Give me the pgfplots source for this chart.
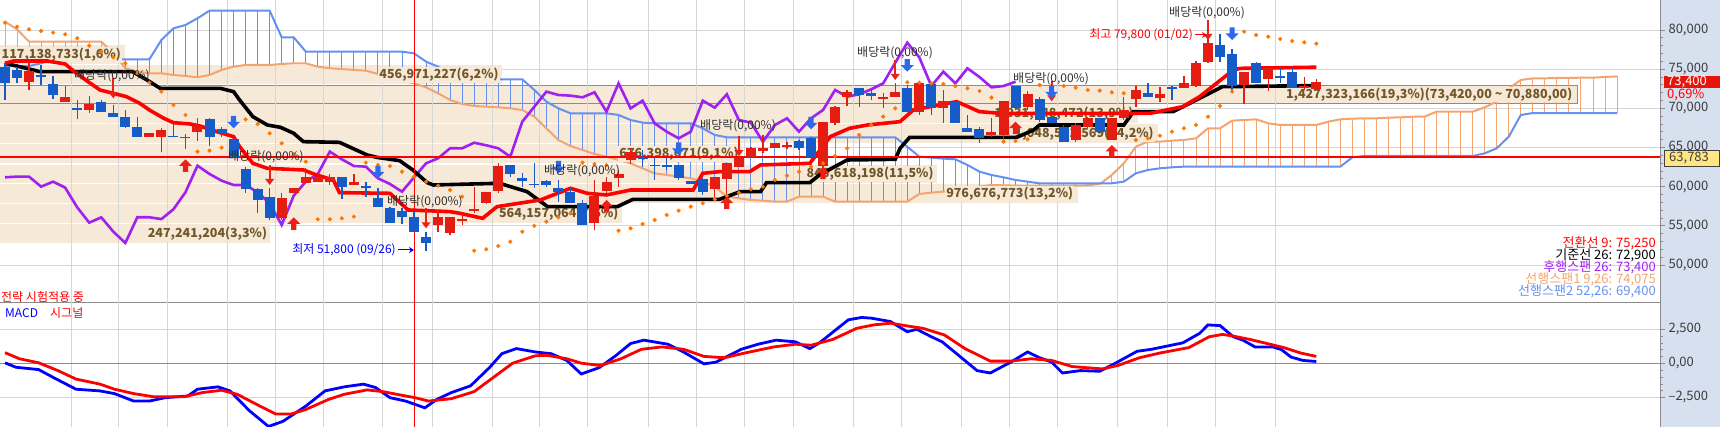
\documentclass[border=0pt]{standalone}
\usepackage{fontspec}
\setmainfont{Noto Sans CJK KR}
\usepackage{pgfplots}
\usepackage{pgfplotstable}
\pgfplotsset{compat=1.18}
\usetikzlibrary{arrows.meta}

\definecolor{cred}{RGB}{228,28,18}
\definecolor{cblue}{RGB}{22,92,200}
\definecolor{ared}{RGB}{236,32,22}
\definecolor{ablue}{RGB}{45,105,235}
\definecolor{chik}{RGB}{160,32,240}
\definecolor{spanA}{RGB}{244,164,110}
\definecolor{spanB}{RGB}{100,145,240}
\definecolor{sar}{RGB}{255,118,0}
\definecolor{beige}{RGB}{246,233,216}
\definecolor{brownlab}{RGB}{112,86,40}
\definecolor{gridgray}{RGB}{214,214,214}
\definecolor{axgray}{RGB}{140,140,140}
\definecolor{labgray}{RGB}{60,60,60}
\definecolor{panel}{RGB}{214,224,238}
\definecolor{pricered}{RGB}{230,20,10}
\definecolor{boxyel}{RGB}{255,230,130}
\definecolor{divtxt}{RGB}{45,45,45}

\newcommand{\fsz}[1]{\fontsize{#1}{#1}\selectfont}

% block arrows and ex-dividend marker, tip at the data point
\pgfdeclareplotmark{arrup}{%
  \pgfpathmoveto{\pgfqpoint{0pt}{0pt}}%
  \pgfpathlineto{\pgfqpoint{6.5pt}{-6.5pt}}%
  \pgfpathlineto{\pgfqpoint{2.6pt}{-6.5pt}}%
  \pgfpathlineto{\pgfqpoint{2.6pt}{-12.5pt}}%
  \pgfpathlineto{\pgfqpoint{-2.6pt}{-12.5pt}}%
  \pgfpathlineto{\pgfqpoint{-2.6pt}{-6.5pt}}%
  \pgfpathlineto{\pgfqpoint{-6.5pt}{-6.5pt}}%
  \pgfpathclose\pgfusepathqfill}
\pgfdeclareplotmark{arrdown}{%
  \pgfpathmoveto{\pgfqpoint{0pt}{0pt}}%
  \pgfpathlineto{\pgfqpoint{6.5pt}{6.5pt}}%
  \pgfpathlineto{\pgfqpoint{2.6pt}{6.5pt}}%
  \pgfpathlineto{\pgfqpoint{2.6pt}{12.5pt}}%
  \pgfpathlineto{\pgfqpoint{-2.6pt}{12.5pt}}%
  \pgfpathlineto{\pgfqpoint{-2.6pt}{6.5pt}}%
  \pgfpathlineto{\pgfqpoint{-6.5pt}{6.5pt}}%
  \pgfpathclose\pgfusepathqfill}
\pgfdeclareplotmark{divm}{%
  \pgfpathmoveto{\pgfqpoint{0pt}{0pt}}%
  \pgfpathlineto{\pgfqpoint{4.5pt}{6pt}}%
  \pgfpathlineto{\pgfqpoint{-4.5pt}{6pt}}%
  \pgfpathclose\pgfusepathqfill
  \pgfpathrectangle{\pgfqpoint{-0.9pt}{5pt}}{\pgfqpoint{1.8pt}{15pt}}\pgfusepathqfill}

% error-bar plots only: hide the point markers
\pgfplotsset{barsonly/.style={only marks, mark=*, mark options={opacity=0}, forget plot}}

% daily candles: index, open, high, low, close
\pgfplotstableread{
i o h l c
0 75320 75745 71065 73190
1 74895 75320 73190 73830
2 73320 76045 72340 74765
3 74255 75530 72980 74045
4 73065 74130 71150 71700
5 70850 72850 70850 71450
6 70000 71065 68595 69830
7 69790 71620 69365 70555
8 70850 71065 69490 69575
9 69365 70425 68850 68940
10 68850 69790 67535 67660
11 67660 68850 66300 66385
12 66300 66810 66300 66810
13 66300 67535 64385 67235
14 66470 68300 66340 66340
15 66260 66680 64770 66385
16 66940 68725 65830 67790
17 68640 68725 65235 66300
18 67320 67660 66385 66680
19 66045 66385 63620 63620
20 62215 62555 59235 59660
21 59705 59790 56600 58300
22 58725 59790 55750 55960
23 55960 59150 55750 58515
24 59150 59790 59150 59790
25 60430 62345 60430 61195
26 60640 61705 60640 61280
27 60640 61620 60215 61280
28 61195 61280 58385 60000
29 60215 61620 60215 60640
30 60130 60640 58725 59875
31 58515 59875 57365 57365
32 57235 57450 55400 55400
33 56940 57235 55235 56085
34 56170 56940 54260 54260
35 53575 54210 51800 52810
36 55100 57020 54250 56100
37 54040 56090 53830 56090
38 55560 56600 55100 55860
39 56940 60000 56600 57110
40 57875 59280 57790 59280
41 59490 62980 59150 62680
42 62770 62770 61280 61620
43 61150 61705 60000 60770
44 60385 62980 59790 60215
45 60725 60855 60000 60215
46 59790 60855 58090 59280
47 59280 60000 57875 57875
48 57875 58300 55110 55110
49 55400 60855 54470 58850
50 59490 61280 59235 60640
51 61065 62130 59915 61620
52 63405 64895 62895 64470
53 63830 64685 62555 63490
54 62770 63830 60855 62640
55 62770 63830 62130 62555
56 62770 62770 60855 61065
57 60680 60680 60340 60340
58 60980 61065 58940 59360
59 59700 61280 58725 61190
60 60940 62980 58300 62980
61 62470 63830 62470 63620
62 63830 65110 63830 64900
63 64600 66600 64260 64895
64 64890 65610 64890 65610
65 65195 65745 64770 65280
66 65830 65960 64685 64895
67 66170 66300 63830 63830
68 62640 68300 62555 68300
69 68085 70300 67875 70210
70 71490 72340 70300 72130
71 72555 72555 70210 71700
72 71915 72340 71065 71620
73 71150 71915 70000 71405
74 71490 73190 71405 72045
75 72555 72980 69575 69575
76 69575 73275 69150 73190
77 73100 73190 69150 69990
78 69990 72340 68085 70980
79 70850 70850 68085 68085
80 67450 69150 67020 67020
81 67320 67660 65620 66170
82 66590 68725 66385 67020
83 66590 70980 65960 70980
84 72850 72850 69790 70085
85 70215 72215 69790 71790
86 71150 71490 68300 68510
87 68940 69150 68085 68170
88 67660 67875 65745 65745
89 65960 68085 65745 67875
90 67660 68940 67450 68725
91 68725 68725 66810 67025
92 65960 68725 65960 68725
93 68725 71490 68510 69790
94 71150 72850 70215 72340
95 71915 73190 71405 71490
96 71365 72680 70850 71790
97 72680 72850 71065 72425
98 72640 74130 72640 73190
99 72850 76085 72765 75830
100 75960 79800 75745 78380
101 78085 79500 75960 76510
102 76935 77575 72340 72850
103 72980 74680 70555 74680
104 75745 75960 73190 73190
105 73705 75105 72255 75105
106 74085 75320 73190 74000
107 74680 75105 72555 72680
108 72555 74045 72340 72850
109 72425 73700 72340 73400
}\candles

% leading spans 1 and 2
\pgfplotstableread{
i s1 s2
0 81064 75405
1 80086 75405
2 78511 75405
3 78511 75745
4 78511 76256
5 78511 76256
6 78511 76256
7 78511 76256
8 78511 76256
9 77022 76256
10 75107 76256
11 74682 76256
12 74469 76256
13 74469 78724
14 74256 80213
15 74129 80639
16 73958 81490
17 74256 82468
18 74894 82468
19 75320 82468
20 75533 82468
21 75533 82468
22 75533 82468
23 75660 79064
24 75745 79064
25 75745 77235
26 75320 77235
27 75107 77235
28 75022 77235
29 74894 77235
30 74809 77235
31 74384 77235
32 73958 77235
33 73533 77235
34 73192 77022
35 72682 75958
36 71916 75320
37 71065 74256
38 70554 73831
39 70299 73703
40 70214 73703
41 70129 73703
42 70001 73703
43 69788 73703
44 68937 72341
45 67448 70852
46 65959 70001
47 65193 69363
48 64682 69363
49 64172 69363
50 63831 69363
51 63406 69150
52 62980 68512
53 62342 68172
54 61704 68086
55 61491 68086
56 61278 68086
57 61066 68086
58 60640 67448
59 60002 66597
60 58725 66299
61 58513 66299
62 58300 66299
63 58215 66299
64 58087 66299
65 58087 66299
66 58725 66299
67 58725 66299
68 58725 66299
69 58087 66299
70 58087 66299
71 58087 66299
72 58087 66299
73 58087 66299
74 58087 66299
75 58087 65108
76 59066 63831
77 59236 63704
78 59364 63576
79 59576 63491
80 59789 62768
81 60002 61917
82 60215 61491
83 60172 61193
84 60130 60853
85 60087 60640
86 60087 60427
87 60087 60427
88 60087 60427
89 60130 60427
90 60172 60427
91 60342 60427
92 61491 60427
93 62980 60640
94 65108 61704
95 65746 62129
96 65746 62342
97 65874 62470
98 65959 62555
99 66172 62555
100 67448 62555
101 67448 62555
102 68427 62555
103 68512 62555
104 68597 62555
105 68086 62555
106 67874 62555
107 67874 62555
108 67874 62555
109 67874 62555
110 68299 62555
111 68597 62555
112 68682 63746
113 68725 63917
114 68725 63917
115 68810 63917
116 68852 63917
117 68937 63917
118 68937 63917
119 69576 63917
120 69576 63917
121 69576 63917
122 69576 63917
123 70129 64257
124 70852 64895
125 72554 66384
126 73618 69150
127 73831 69400
128 73831 69400
129 73873 69400
130 73873 69400
131 73916 69400
132 73916 69400
133 74001 69400
134 74075 69400
}\spans

\pgfplotstableread{
x y
0 75745
0.7 76045
3.5 76045
5 75660
5.6 74895
6.9 73405
7.9 72340
9 71915
10.1 71490
11.2 70640
12 69790
13.2 68725
14 68170
15.4 68000
16.2 67745
17.6 67025
19 66385
19.5 65110
20.6 62980
21.8 62345
24.8 62130
25.9 61490
27.3 60855
27.8 59235
32 59150
33.5 57025
37 56810
37.8 56600
39.7 55960
40.9 57450
44.5 58300
47 59790
48.4 59150
50 58940
52 59575
57.2 59575
58 61705
59.4 61915
61.9 61915
62.8 62770
66.9 62980
68.6 66385
70.2 67450
71.7 67875
74.4 68300
75.5 69790
79.1 70855
81 69575
82.7 69365
95.2 69365
97.9 70215
99.3 71490
100.7 73190
102.1 74895
102.7 75105
109 75250
}\tenkan

\pgfplotstableread{
x y
0 75745
1.2 75320
2.9 74680
10.6 74680
11.8 73620
12.9 72555
17.9 72555
19 72130
19.5 71065
20.6 68940
21.8 67875
22.9 67575
24 66810
24.8 65745
27.8 65660
30.1 64045
30.9 63745
32.8 63320
33.9 62130
35.1 60510
35.6 60215
41.1 60430
43.4 59360
45.1 57450
50.9 57450
52.2 58385
59.4 58385
61.1 59360
62.8 59360
63.3 60510
66.9 60510
67.7 61490
70 63405
74 63490
74.4 64895
75.2 66300
84.1 66300
85.5 67235
86 67875
93 67875
93.8 69575
97.1 69575
101.2 72765
109 72900
}\kijun

\pgfplotstableread{
x y
0 61195
1 61280
2 61280
3 60000
4 60640
5 59875
6 57365
7 55400
8 56085
9 54260
10 52810
11 56100
12 56090
13 55860
14 57110
15 59280
16 62680
17 61620
18 60770
19 60215
20 60215
21 59280
22 57875
23 55110
24 58850
25 60640
26 61620
27 64470
28 63490
29 62640
30 62555
31 61065
32 60340
33 59360
34 61190
35 62980
36 63620
37 64900
38 64895
39 65610
40 65280
41 64895
42 63830
43 68300
44 70210
45 72130
46 71700
47 71620
48 71405
49 72045
50 69575
51 73190
52 69990
53 70980
54 68085
55 67020
56 66170
57 67020
58 70980
59 70085
60 71790
61 68510
62 68170
63 65745
64 67875
65 68725
66 67025
67 68725
68 69790
69 72340
70 71490
71 71790
72 72425
73 73190
74 75830
75 78380
76 76510
77 72850
78 74680
79 73190
80 75105
81 74000
82 72680
83 72850
84 73400
}\chikou

\pgfplotstableread{
x y
0 80937
1 80426
2 80086
3 79873
4 79660
5 79447
6 78937
7 78001
8 77235
9 76511
10 75746
11 74469
12 73278
13 72129
14 70427
15 69150
16 64470
17 64597
18 64980
19 68725
20 68597
21 68001
22 66810
23 65534
24 64172
25 63193
26 55840
27 55840
28 55960
29 56173
30 63066
31 62768
32 62640
33 61917
34 61279
35 60640
36 60130
37 59575
38 58725
39 51830
40 52000
41 52425
42 52975
43 54250
44 55000
45 55534
46 56087
47 56598
48 63066
49 62896
50 62768
51 54380
52 54683
53 55236
54 55747
55 56385
56 56939
57 57450
58 57875
59 58385
60 58811
61 59236
62 59662
63 60000
64 60853
65 61407
66 61917
67 62555
68 62981
69 63917
70 64895
71 66597
72 67874
73 68938
74 69999
75 73320
76 73278
77 73193
78 73107
79 72852
80 72554
81 72214
82 71363
83 65746
84 65831
85 66044
86 72980
87 72937
88 72852
89 72639
90 72342
91 72256
92 72044
93 71916
94 65959
95 66171
96 66512
97 67023
98 67448
99 67874
100 68938
101 70299
102 72129
103 79788
104 79362
105 79150
106 78852
107 78596
108 78426
109 78256
}\sarpts

\pgfplotstableread{
x y
0 50
0.9 -274
2.8 -448
4.0 -1020
5.9 -1890
7.9 -2015
9.1 -2214
10.7 -2761
12.0 -2761
13.3 -2513
15.2 -2388
16.0 -1890
17.7 -1716
18.7 -2015
20.3 -3458
21.9 -4627
23.1 -4254
25.0 -3134
26.6 -2015
28.2 -1716
29.8 -1517
30.8 -1766
32.0 -2513
33.3 -2761
34.9 -3259
35.9 -2637
37.1 -2139
38.7 -1642
40.3 -274
41.3 721
42.5 1095
44.1 846
45.4 721
46.7 224
47.9 -771
49.4 -300
50.8 597
52.0 1468
53.1 1716
55.1 1418
56.4 846
58.1 -25
59.1 100
61.2 1045
62.6 1418
64.1 1716
65.7 1592
66.9 1095
67.7 1517
70.1 3209
71.2 3383
72.0 3334
73.6 3085
75.0 2338
75.8 2512
77.0 1965
77.9 1592
79.1 721
80.8 -522
81.9 -697
83.6 100
85.0 846
86.0 423
87.0 100
87.9 -697
89.4 -522
91.0 -572
92.2 -25
94.1 896
95.3 1045
97.9 1517
99.3 2214
100.0 2836
101.0 2786
101.6 2338
102.1 1965
102.9 1716
103.9 1219
105.4 1219
106.1 1020
106.9 473
107.9 224
109.0 149
}\macd

\pgfplotstableread{
x y
0 796
1.2 348
2.8 50
4.4 -522
5.9 -1144
7.9 -1517
9.1 -1890
10.7 -2214
12.3 -2438
14.9 -2438
16.4 -2139
18.0 -1965
19.3 -2264
21.2 -3134
22.5 -3707
23.8 -3707
25.0 -3383
26.9 -2637
28.2 -2264
30.1 -1940
31.4 -2065
33.0 -2338
34.1 -2513
35.2 -2761
37.1 -2587
39.0 -2065
40.6 -1020
42.2 25
44.1 572
45.1 597
46.7 348
47.9 25
49.5 -149
51.2 348
52.9 1045
54.6 1219
56.4 1045
58.1 522
59.8 423
61.5 771
63.9 1219
65.7 1418
67.0 1343
68.8 1766
70.8 2587
72.2 2836
73.6 2960
75.0 2761
76.3 2587
78.1 2090
79.8 1095
81.9 174
83.6 174
85.3 348
87.0 224
88.7 -224
91.2 -398
92.5 -149
94.3 423
96.0 771
98.4 1169
100.1 1965
101.2 2139
102.1 2015
103.5 1766
104.9 1468
106.3 1169
107.7 771
109.0 522
}\signal

\begin{document}
\begin{tikzpicture}
\useasboundingbox (0,0) rectangle (1720pt,427pt);
\fill[panel] (1660pt,0pt) rectangle (1720pt,427pt);

% ---------------- price panel ----------------
\begin{axis}[
  at={(0pt,124pt)}, anchor=south west,
  width=1660pt, height=303pt, scale only axis,
  xmin=-0.416, xmax=137.57, ymin=45149, ymax=83830,
  axis x line*=bottom, axis y line*=right,
  xtick=\empty, scaled y ticks=false,
  ytick={50000,55000,60000,65000,70000,75000,80000},
  yticklabels={{50,000},{55,000},{60,000},{65,000},{70,000},{75,000},{80,000}},
  minor y tick num=4,
  tick align=outside, major tick length=5pt, minor tick length=3pt,
  tick style={axgray, line width=0.8pt},
  axis line style={axgray, line width=1pt},
  ymajorgrids, grid style={gridgray, line width=0.8pt},
  yticklabel style={font=\fsz{13}, text=labgray},
]
% volume-by-price bands
\addplot[fill=beige, draw=none, forget plot] coordinates {(-0.5,75596) (9.98,75596) (9.98,78021) (-0.5,78021)} -- cycle;
\addplot[fill=beige, draw=none, forget plot] coordinates {(-0.5,73043) (41.3,73043) (41.3,75468) (-0.5,75468)} -- cycle;
\addplot[fill=beige, draw=none, forget plot] coordinates {(-0.5,68064) (94.2,68064) (94.2,70489) (-0.5,70489)} -- cycle;
\addplot[fill=beige, draw=none, forget plot] coordinates {(-0.5,65511) (95.8,65511) (95.8,67936) (-0.5,67936)} -- cycle;
\addplot[fill=beige, draw=none, forget plot] coordinates {(-0.5,62957) (61.3,62957) (61.3,65383) (-0.5,65383)} -- cycle;
\addplot[fill=beige, draw=none, forget plot] coordinates {(-0.5,60404) (77.5,60404) (77.5,62829) (-0.5,62829)} -- cycle;
\addplot[fill=beige, draw=none, forget plot] coordinates {(-0.5,57851) (89.2,57851) (89.2,60276) (-0.5,60276)} -- cycle;
\addplot[fill=beige, draw=none, forget plot] coordinates {(-0.5,55298) (51.3,55298) (51.3,57723) (-0.5,57723)} -- cycle;
\addplot[fill=beige, draw=none, forget plot] coordinates {(-0.5,52745) (22.0,52745) (22.0,55170) (-0.5,55170)} -- cycle;
\addplot[fill=beige, draw=axgray, line width=1pt, forget plot] coordinates {(-0.6,70600) (130.7,70600) (130.7,72960) (-0.6,72960)} -- cycle;

% vertical grid over the bands
\pgfplotsinvokeforeach{5.5,9.4,13.5,18.45,22.5,26.45,31.4,35.5,40.5,44.4,48.45,53.45,57.5,61.5,65.5,70.5,74.55,79.5,83.5,87.5,92.5,96.6,100.6,105.6}{
  \draw[gridgray, line width=0.8pt] (axis cs:#1,45149) -- (axis cs:#1,83830);
}

% cloud hatching
\addplot[barsonly,
  restrict expr to domain={\thisrow{s1}-\thisrow{s2}}{0:100000},
  error bars/.cd, y dir=minus, y explicit, error mark=none,
  error bar style={spanA, line width=1pt}]
  table[x=i, y=s1, y error expr={\thisrow{s1}-\thisrow{s2}}] {\spans};
\addplot[barsonly,
  restrict expr to domain={\thisrow{s2}-\thisrow{s1}}{0.5:100000},
  error bars/.cd, y dir=minus, y explicit, error mark=none,
  error bar style={spanB, line width=1pt}]
  table[x=i, y=s2, y error expr={\thisrow{s2}-\thisrow{s1}}] {\spans};
\addplot[spanA, line width=2pt, forget plot] table[x=i, y=s1] {\spans};
\addplot[spanB, line width=2pt, forget plot] table[x=i, y=s2] {\spans};

% band labels
\begin{scope}[every node/.style={anchor=east, fill=beige, inner sep=1.2pt, font=\bfseries\fsz{12.5}, text=brownlab}]
\node at (axis cs:9.75,76808) {117,138,733(1,6\%)};
\node at (axis cs:41.15,74255) {456,971,227(6,2\%)};
\node at (axis cs:130.4,71780) {1,427,323,166(19,3\%)(73,420,00 \textasciitilde{} 70,880,00)};
\node at (axis cs:93.9,69276) {1,031,448,472(13,9\%)};
\node at (axis cs:95.6,66723) {1,048,561,569(14,2\%)};
\node at (axis cs:61.1,64170) {676,398,671(9,1\%)};
\node at (axis cs:77.3,61616) {848,618,198(11,5\%)};
\node at (axis cs:88.9,59063) {976,676,773(13,2\%)};
\node at (axis cs:51.1,56510) {564,157,064(7,6\%)};
\node at (axis cs:21.9,53957) {247,241,204(3,3\%)};
\end{scope}

% lagging span, base line, conversion line
\addplot[chik, line width=2.6pt, forget plot] table {\chikou};
\addplot[black, line width=3.6pt, forget plot] table {\kijun};
\addplot[red, line width=3.6pt, forget plot] table {\tenkan};

% reference lines
\addplot[red, line width=1.1pt, forget plot] coordinates {(-0.5,63783) (138,63783)};
\addplot[red, line width=1pt, forget plot] coordinates {(34,45149) (34,83830)};

% candle wicks and bodies
\addplot[barsonly,
  restrict expr to domain={\thisrow{c}-\thisrow{o}}{1:100000},
  error bars/.cd, y dir=both, y explicit, error mark=none,
  error bar style={cred, line width=1.3pt}]
  table[x=i, y expr={(\thisrow{h}+\thisrow{l})/2}, y error expr={(\thisrow{h}-\thisrow{l})/2}] {\candles};
\addplot[barsonly,
  restrict expr to domain={\thisrow{c}-\thisrow{o}}{1:100000},
  error bars/.cd, y dir=both, y explicit, error mark=none,
  error bar style={cred, line width=10pt}]
  table[x=i, y expr={(\thisrow{o}+\thisrow{c})/2}, y error expr={max(abs(\thisrow{c}-\thisrow{o})/2,64)}] {\candles};
\addplot[barsonly,
  restrict expr to domain={\thisrow{c}-\thisrow{o}}{-100000:-1},
  error bars/.cd, y dir=both, y explicit, error mark=none,
  error bar style={cblue, line width=1.3pt}]
  table[x=i, y expr={(\thisrow{h}+\thisrow{l})/2}, y error expr={(\thisrow{h}-\thisrow{l})/2}] {\candles};
\addplot[barsonly,
  restrict expr to domain={\thisrow{c}-\thisrow{o}}{-100000:-1},
  error bars/.cd, y dir=both, y explicit, error mark=none,
  error bar style={cblue, line width=10pt}]
  table[x=i, y expr={(\thisrow{o}+\thisrow{c})/2}, y error expr={max(abs(\thisrow{c}-\thisrow{o})/2,64)}] {\candles};

% parabolic SAR
\addplot[only marks, mark=*, mark size=1.9pt, color=sar, forget plot] table {\sarpts};

% signal arrows and ex-dividend markers
\addplot[only marks, mark=divm, color=ared, forget plot] coordinates {
(9,71278) (22,60215) (35,54683) (61,63900) (74,73618) (87,70900) (100,78724)};
\addplot[only marks, mark=arrup, color=ared, forget plot] coordinates {
(15,63491) (24,56087) (50,58300) (60,58725) (68,62555) (84,68300) (92,65320)};
\addplot[only marks, mark=arrdown, color=ablue, forget plot] coordinates {
(19,67450) (31,61065) (46,61705) (56,64045) (67,67325) (75,74680) (87,71278) (102,78724)};
\end{axis}

% ---------------- MACD panel ----------------
\begin{axis}[
  at={(0pt,0pt)}, anchor=south west,
  width=1660pt, height=124pt, scale only axis,
  xmin=-0.416, xmax=137.57, ymin=-4667, ymax=4447,
  axis x line=none, axis y line*=right,
  scaled y ticks=false,
  ytick={-2500,0,2500},
  yticklabels={{\textendash2,500},{0,00},{2,500}},
  minor y tick num=4,
  tick align=outside, major tick length=5pt, minor tick length=3pt,
  tick style={axgray, line width=0.8pt},
  axis line style={axgray, line width=1pt},
  ymajorgrids, grid style={gridgray, line width=0.8pt},
  yticklabel style={font=\fsz{13}, text=labgray},
]
\pgfplotsinvokeforeach{5.5,9.4,13.5,18.45,22.5,26.45,31.4,35.5,40.5,44.4,48.45,53.45,57.5,61.5,65.5,70.5,74.55,79.5,83.5,87.5,92.5,96.6,100.6,105.6}{
  \draw[gridgray, line width=0.8pt] (axis cs:#1,-4667) -- (axis cs:#1,4447);
}
\addplot[axgray, line width=1pt, forget plot] coordinates {(-0.5,0) (138,0)};
\addplot[red, line width=1pt, forget plot] coordinates {(34,-4667) (34,4447)};
\addplot[blue, line width=2.8pt, forget plot] table {\macd};
\addplot[red, line width=2.8pt, forget plot] table {\signal};
\end{axis}

% ---------------- annotations (pixel coordinates) ----------------
\begin{scope}[x=1pt, y=-1pt, yshift=427pt]
\foreach \cx/\cy in {112/76, 266/157, 425/202, 582/171, 738/126, 895/53, 1051/79, 1207/13}
  \node[font=\fsz{12}, text=divtxt, inner sep=0pt] at (\cx,\cy) {배당락(0,00\%)};
\node[anchor=east, font=\fsz{12}, text=red, inner sep=0pt] at (1193,35) {최고 79,800 (01/02)};
\draw[red, line width=1pt, -{Stealth[length=5pt,width=6pt]}] (1195,35) -- (1207,35);
\node[anchor=east, font=\fsz{12}, text=blue, inner sep=0pt] at (396,250) {최저 51,800 (09/26)};
\draw[blue, line width=1pt, -{Stealth[length=5pt,width=6pt]}] (398,250) -- (414,250);

\node[anchor=west, font=\fsz{12}, text=red, inner sep=0pt] at (1,297) {전략 시험적용 중};
\node[anchor=west, font=\fsz{12}, text=blue, inner sep=0pt] at (5,313) {MACD};
\node[anchor=west, font=\fsz{12}, text=red, inner sep=0pt] at (50,313) {시그널};

\node[anchor=east, font=\fsz{13}, text=red, inner sep=0pt] at (1656,243) {전환선 9: 75,250};
\node[anchor=east, font=\fsz{13}, text=black, inner sep=0pt] at (1656,255) {기준선 26: 72,900};
\node[anchor=east, font=\fsz{13}, text=chik, inner sep=0pt] at (1656,267) {후행스팬 26: 73,400};
\node[anchor=east, font=\fsz{13}, text=spanA, inner sep=0pt] at (1656,279) {선행스팬1 9,26: 74,075};
\node[anchor=east, font=\fsz{13}, text=spanB, inner sep=0pt] at (1656,291) {선행스팬2 52,26: 69,400};

\fill[pricered] (1664,76) rectangle (1720,88);
\node[anchor=west, text=white, font=\fsz{13}, inner sep=0pt] at (1667,82) {73,400};
\node[anchor=west, text=red, font=\fsz{13}, inner sep=0pt] at (1667,95) {0,69\%};
\filldraw[fill=boxyel, draw=black!75, line width=0.8pt] (1664.5,150) rectangle (1719.5,166);
\node[anchor=west, text=black!75, font=\fsz{13}, inner sep=0pt] at (1669,158) {63,783};
\end{scope}
\end{tikzpicture}
\end{document}
